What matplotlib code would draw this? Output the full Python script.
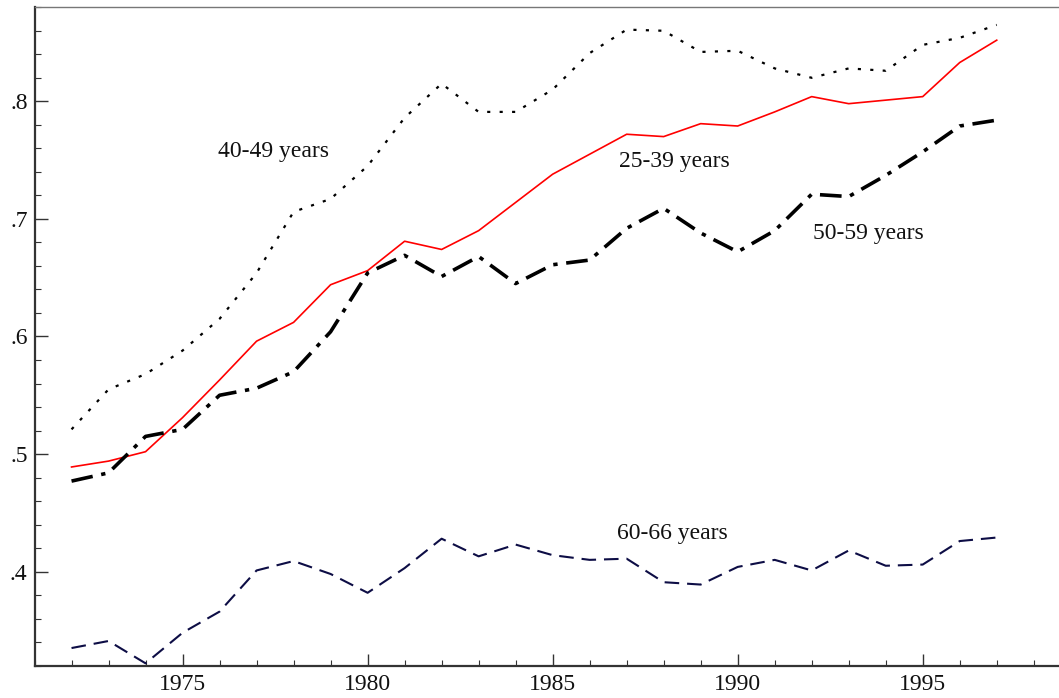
import matplotlib
matplotlib.use("Agg")
import matplotlib.pyplot as plt
from matplotlib.ticker import MultipleLocator, FuncFormatter

years = list(range(1972, 1998))
age_25_39 = [0.489, 0.494, 0.502, 0.531, 0.563, 0.596, 0.612, 0.644, 0.656, 0.681, 0.674, 0.690,
             0.714, 0.738, 0.755, 0.772, 0.770, 0.781, 0.779, 0.791, 0.804, 0.798, 0.801, 0.804,
             0.833, 0.852]
age_40_49 = [0.521, 0.555, 0.568, 0.588, 0.615, 0.654, 0.706, 0.717, 0.745, 0.786, 0.815, 0.791,
             0.791, 0.810, 0.841, 0.861, 0.860, 0.842, 0.843, 0.828, 0.820, 0.828, 0.826, 0.848,
             0.854, 0.865]
age_50_59 = [0.477, 0.484, 0.515, 0.521, 0.550, 0.556, 0.570, 0.604, 0.654, 0.669, 0.651, 0.668,
             0.645, 0.661, 0.665, 0.692, 0.709, 0.688, 0.672, 0.690, 0.721, 0.719, 0.737, 0.757,
             0.779, 0.784]
age_60_66 = [0.335, 0.341, 0.322, 0.348, 0.366, 0.401, 0.409, 0.398, 0.382, 0.403, 0.428, 0.413,
             0.423, 0.414, 0.410, 0.411, 0.391, 0.389, 0.404, 0.410, 0.401, 0.418, 0.405, 0.406,
             0.426, 0.429]

labels = [("40-49 years", 1975.95, 0.7524),
          ("25-39 years", 1986.80, 0.7442),
          ("50-59 years", 1992.04, 0.6828),
          ("60-66 years", 1986.73, 0.4279)]

plt.rcParams['font.family'] = ['Liberation Serif', 'DejaVu Serif']

fig = plt.figure(figsize=(10.59, 6.98), dpi=100)
ax = fig.add_axes([0.0326, 0.0463, 0.9785, 0.9433])

ax.plot(years, age_40_49, color='black', lw=1.6, dashes=(1.4, 4.2), dash_capstyle='butt')
ax.plot(years, age_25_39, color='#ff0000', lw=1.2)
ax.plot(years, age_50_59, color='black', lw=2.6, dashes=(6.0, 2.4, 1.2, 2.4))
ax.plot(years, age_60_66, color='#0d0d45', lw=1.5, dashes=(7.0, 3.8))

for txt, x, y in labels:
    ax.text(x, y, txt, fontsize=17, ha='left', va='baseline', color='#111111')

ax.set_xlim(1971, 1999)
ax.set_ylim(0.32, 0.88)
ax.xaxis.set_major_locator(MultipleLocator(5))
ax.xaxis.set_minor_locator(MultipleLocator(1))
ax.yaxis.set_major_locator(MultipleLocator(0.1))
ax.yaxis.set_minor_locator(MultipleLocator(0.02))
ax.yaxis.set_major_formatter(FuncFormatter(lambda v, p: ("%.1f" % v).lstrip('0')))
ax.tick_params(axis='both', which='both', direction='in', colors='#333333', labelcolor='#111111')
ax.tick_params(axis='both', which='major', length=9, width=1.0, labelsize=17)
ax.tick_params(axis='both', which='minor', length=4.5, width=0.8)
ax.tick_params(axis='x', which='major', pad=6)
ax.tick_params(axis='y', which='major', pad=5)

for s in ('left', 'bottom'):
    ax.spines[s].set_color('#333333')
    ax.spines[s].set_linewidth(1.6)
ax.spines['top'].set_color('#777777')
ax.spines['top'].set_linewidth(1.0)
ax.spines['right'].set_visible(False)

fig.savefig('out.png', dpi=100)
